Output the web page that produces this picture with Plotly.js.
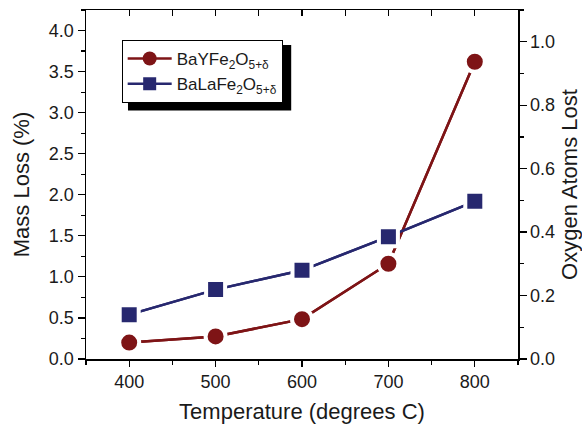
<!DOCTYPE html>
<html>
<head>
<meta charset="utf-8">
<script src="https://cdn.plot.ly/plotly-3.0.1.min.js"></script>
<style>html,body{margin:0;padding:0;background:#fff;}#chart{width:582px;height:424px;}</style>
</head>
<body>
<div id="chart"></div>
<script>
var temperatures = [400, 500, 600, 700, 800];
var massLossY = [0.20, 0.275, 0.485, 1.16, 3.62];
var massLossLa = [0.54, 0.845, 1.08, 1.49, 1.92];
var seriesNames = ['BaYFe<sub>2</sub>O<sub>5+δ</sub>', 'BaLaFe<sub>2</sub>O<sub>5+δ</sub>'];

var red = '#7e1416';
var blue = '#27286f';
var font = 'Liberation Sans, Arial, sans-serif';

var traces = [
  // base traces (these carry the legend keys)
  {x: temperatures, y: massLossY, name: seriesNames[0], type: 'scatter', mode: 'lines+markers',
   line: {color: red, width: 2.5}, marker: {symbol: 'circle', size: 14, color: red}},
  {x: temperatures, y: massLossLa, name: seriesNames[1], type: 'scatter', mode: 'lines+markers',
   line: {color: blue, width: 2.5}, marker: {symbol: 'square', size: 13, color: blue}},
  // same series again with white rims, so the lines stop short of the markers
  {x: temperatures, y: massLossY, name: seriesNames[0], type: 'scatter', mode: 'lines+markers',
   showlegend: false, line: {color: red, width: 2.5},
   marker: {symbol: 'circle', size: 20, color: red, line: {color: '#fff', width: 4}}},
  {x: temperatures, y: massLossLa, name: seriesNames[1], type: 'scatter', mode: 'lines+markers',
   showlegend: false, line: {color: blue, width: 2.5},
   marker: {symbol: 'square', size: 19, color: blue, line: {color: '#fff', width: 4}}},
  // empty trace so the right-hand and top axes are drawn
  {x: [], y: [], xaxis: 'x2', yaxis: 'y2', type: 'scatter', mode: 'markers', showlegend: false, hoverinfo: 'skip'}
];

var layout = {
  width: 582, height: 424,
  margin: {l: 86, r: 64, t: 10, b: 65},
  paper_bgcolor: '#fff', plot_bgcolor: '#fff',
  font: {family: font, color: '#1a1a1a', size: 18},
  showlegend: true,
  legend: {x: 0.0826, y: 0.914, xanchor: 'left', yanchor: 'top', itemwidth: 44,
           bgcolor: '#fff', bordercolor: '#000', borderwidth: 1, tracegroupgap: 0,
           font: {family: font, size: 17, color: '#1a1a1a'}},
  xaxis: {range: [350, 850], dtick: 100, tick0: 0, showgrid: false, zeroline: false,
          showline: true, linecolor: '#000', linewidth: 1.5,
          ticks: 'outside', ticklen: 6, tickwidth: 1.2, tickcolor: '#000',
          minor: {dtick: 50, ticks: 'outside', ticklen: 4, tickwidth: 1.2, tickcolor: '#000'},
          tickfont: {size: 18},
          title: {text: 'Temperature (degrees C)', font: {size: 22}, standoff: 16}},
  xaxis2: {overlaying: 'x', side: 'top', anchor: 'y2', range: [350, 850], dtick: 50, tick0: 0,
           showgrid: false, zeroline: false, showline: true, linecolor: '#000', linewidth: 1.5,
           ticks: 'inside', ticklen: 6, tickwidth: 1.4, tickcolor: '#000', showticklabels: false},
  yaxis: {range: [0, 4.25], dtick: 0.5, tick0: 0, tickformat: '.1f', showgrid: false, zeroline: false,
          showline: true, linecolor: '#000', linewidth: 1.5,
          ticks: 'outside', ticklen: 7, tickwidth: 1.2, tickcolor: '#000',
          minor: {dtick: 0.25, ticks: 'outside', ticklen: 4, tickwidth: 1.2, tickcolor: '#000'},
          tickfont: {size: 18},
          title: {text: 'Mass Loss (%)', font: {size: 22}, standoff: 13}},
  yaxis2: {overlaying: 'y', side: 'right', anchor: 'x2', range: [0, 1.1], dtick: 0.2, tick0: 0, tickformat: '.1f',
           showgrid: false, zeroline: false, showline: true, linecolor: '#000', linewidth: 1.5,
           ticks: 'outside', ticklen: 7, tickwidth: 1.2, tickcolor: '#000',
           minor: {dtick: 0.1, ticks: 'outside', ticklen: 4, tickwidth: 1.2, tickcolor: '#000'},
           tickfont: {size: 18},
           title: {text: 'Oxygen Atoms Lost', font: {size: 22}, standoff: 11}},
  shapes: [
    // drop shadow behind the legend box
    {type: 'rect', xref: 'paper', yref: 'paper', x0: 0.0972, x1: 0.475, y0: 0.712, y1: 0.8997,
     fillcolor: '#000', line: {width: 0}, layer: 'above'}
  ]
};

Plotly.newPlot('chart', traces, layout, {displayModeBar: false, staticPlot: true});
</script>
</body>
</html>
